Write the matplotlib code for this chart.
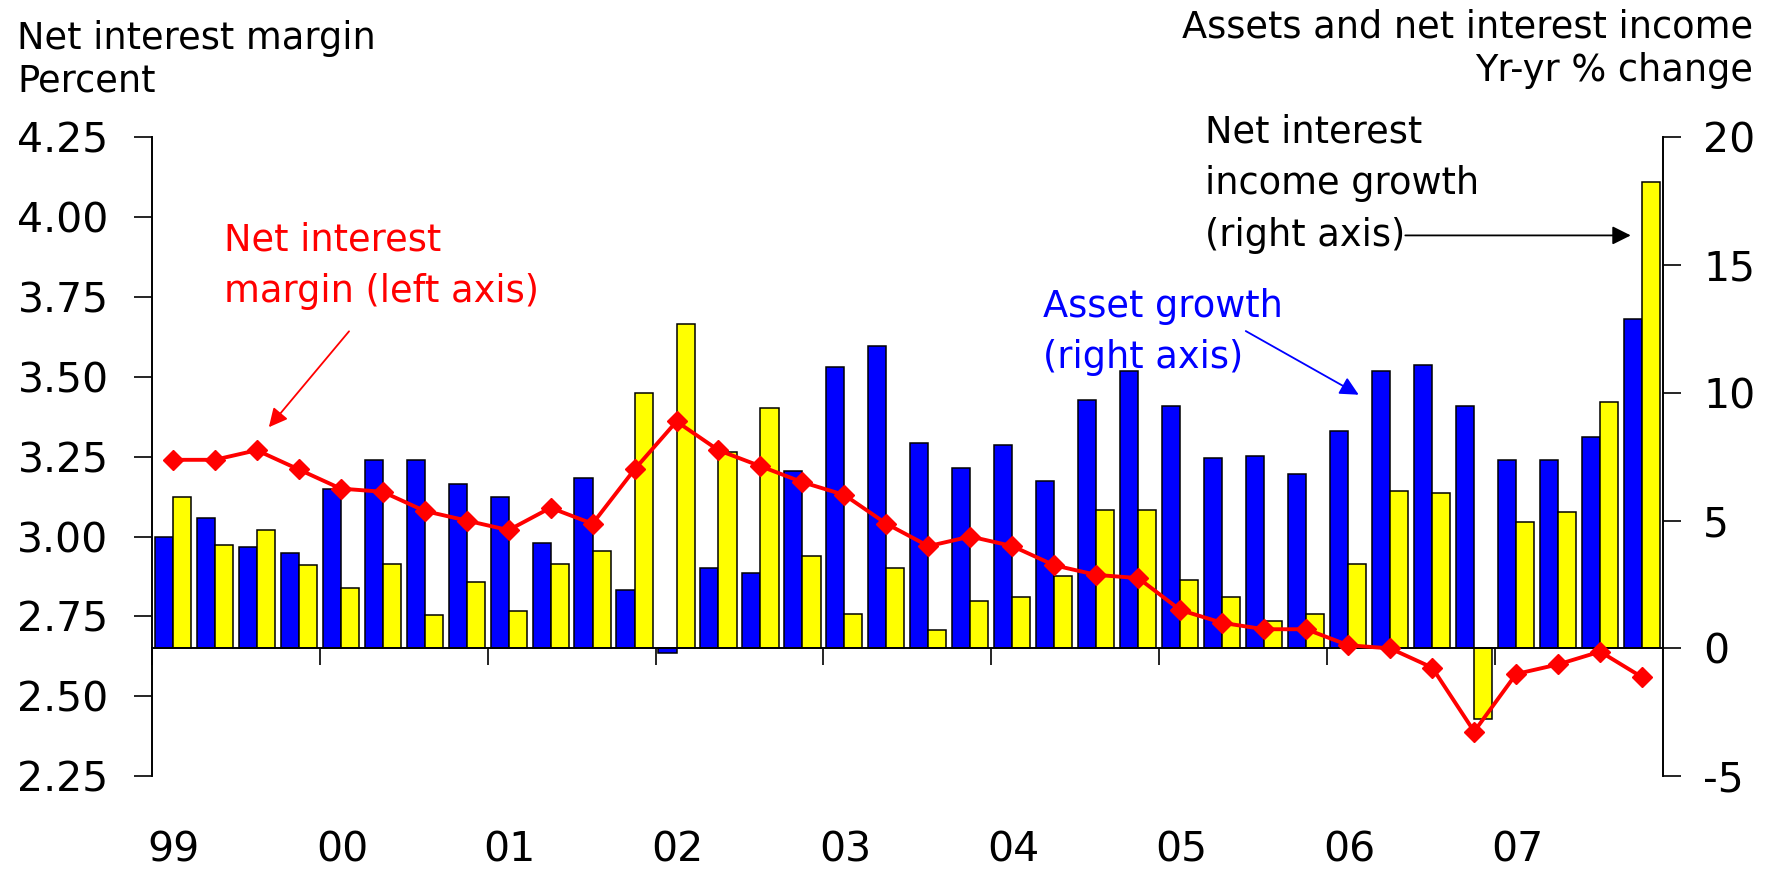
import numpy as np
import matplotlib.pyplot as plt
from matplotlib.transforms import blended_transform_factory

# quarterly data, 1999Q1 - 2007Q4
years = ['99', '00', '01', '02', '03', '04', '05', '06', '07']

# net interest margin, percent (left axis)
nim = [3.24, 3.24, 3.27, 3.21,
       3.15, 3.14, 3.08, 3.05,
       3.02, 3.09, 3.04, 3.21,
       3.36, 3.27, 3.22, 3.17,
       3.13, 3.04, 2.97, 3.00,
       2.97, 2.91, 2.88, 2.87,
       2.77, 2.73, 2.71, 2.71,
       2.66, 2.65, 2.59, 2.39,
       2.57, 2.60, 2.64, 2.56]

# asset growth, yr-yr % change (right axis)
asset_growth = [4.36, 5.11, 3.98, 3.75,
                6.25, 7.38, 7.38, 6.42,
                5.93, 4.14, 6.65, 2.29,
                -0.16, 3.16, 2.93, 6.95,
                11.01, 11.83, 8.03, 7.05,
                7.94, 6.56, 9.70, 10.86,
                9.48, 7.46, 7.52, 6.81,
                8.50, 10.86, 11.10, 9.48,
                7.38, 7.38, 8.25, 12.88]

# net interest income growth, yr-yr % change (right axis)
nii_growth = [5.93, 4.05, 4.62, 3.26,
              2.36, 3.32, 1.31, 2.58,
              1.48, 3.32, 3.80, 9.97,
              12.70, 7.70, 9.39, 3.63,
              1.36, 3.16, 0.72, 1.85,
              2.02, 2.83, 5.43, 5.43,
              2.67, 2.02, 1.06, 1.36,
              3.32, 6.14, 6.07, -2.76,
              4.94, 5.34, 9.63, 18.24]

left_ticks = [2.25, 2.50, 2.75, 3.00, 3.25, 3.50, 3.75, 4.00, 4.25]
right_ticks = [-5, 0, 5, 10, 15, 20]

RED = '#FF0000'
BLUE = '#0000FF'
YELLOW = '#FFFF00'
TICK_SIZE = 29.5
TEXT_SIZE = 26.5

fig = plt.figure(figsize=(17.85, 8.74), dpi=100)
ax = fig.add_axes([0.085, 0.1118, 0.8467, 0.7315])
ax2 = ax.twinx()

idx = np.arange(len(nim))
bw = 0.43
ax.bar(idx - bw / 2, asset_growth, width=bw, color=BLUE, edgecolor='black', linewidth=1.1, zorder=2)
ax.bar(idx + bw / 2, nii_growth, width=bw, color=YELLOW, edgecolor='black', linewidth=1.1, zorder=2)

ax2.plot(idx, nim, color=RED, lw=2.8, marker='D', markersize=10, markeredgecolor=RED,
         markeredgewidth=1, zorder=3)

# right axis (bars)
ax.set_xlim(-0.5, len(nim) - 0.5)
ax.set_ylim(-5, 20)
ax.yaxis.tick_right()
ax.set_yticks(right_ticks)
ax.set_yticklabels([str(t) for t in right_ticks])
ax.spines['top'].set_visible(False)
ax.spines['left'].set_visible(False)
ax.spines['bottom'].set_position(('data', 0))
for sp in ax.spines.values():
    sp.set_linewidth(1.4)
ax.tick_params(axis='y', direction='out', length=13, width=1.2, pad=16, labelsize=TICK_SIZE)

year_ticks = [-0.5 + 4 * k for k in range(len(years))]
ax.set_xticks(year_ticks)
ax.set_xticklabels([])
ax.tick_params(axis='x', direction='out', length=12, width=1.2)

trans = blended_transform_factory(ax.transData, fig.transFigure)
for pos, lab in zip(year_ticks, years):
    ax.text(pos + 0.53, 0.004, lab, transform=trans, ha='center', va='bottom',
            fontsize=TICK_SIZE)

# left axis (line)
ax2.set_ylim(2.25, 4.25)
ax2.yaxis.tick_left()
ax2.set_yticks(left_ticks)
ax2.set_yticklabels(['%.2f' % t for t in left_ticks])
for name in ['top', 'right', 'bottom']:
    ax2.spines[name].set_visible(False)
ax2.spines['left'].set_linewidth(1.4)
ax2.tick_params(axis='y', direction='out', length=13, width=1.2, pad=18, labelsize=TICK_SIZE)

# axis titles
fig.text(17 / 1785, 1 - 20 / 874, 'Net interest margin\nPercent', ha='left', va='top',
         fontsize=TEXT_SIZE, linespacing=1.2)
fig.text(1753 / 1785, 1 - 9 / 874, 'Assets and net interest income\nYr-yr % change',
         ha='right', va='top', multialignment='right', fontsize=TEXT_SIZE, linespacing=1.2)

# series labels with arrows
ax.text(1.23, 16.7, 'Net interest\nmargin (left axis)', color=RED, ha='left', va='top',
        fontsize=TEXT_SIZE, linespacing=1.5)
ax.annotate('', xy=(2.29, 8.65), xytext=(4.2, 12.4),
            arrowprops=dict(arrowstyle='-|>', color=RED, lw=1.3, mutation_scale=28,
                            shrinkA=0, shrinkB=0))

ax.text(20.74, 14.1, 'Asset growth\n(right axis)', color=BLUE, ha='left', va='top',
        fontsize=TEXT_SIZE, linespacing=1.5)
ax.annotate('', xy=(28.25, 9.92), xytext=(25.56, 12.41),
            arrowprops=dict(arrowstyle='-|>', color=BLUE, lw=1.3, mutation_scale=28,
                            shrinkA=0, shrinkB=0))

ax.text(24.58, 20.9, 'Net interest\nincome growth\n(right axis)', color='black', ha='left',
        va='top', fontsize=TEXT_SIZE, linespacing=1.5)
ax.annotate('', xy=(34.73, 16.15), xytext=(29.36, 16.15),
            arrowprops=dict(arrowstyle='-|>', color='black', lw=1.3, mutation_scale=28,
                            shrinkA=0, shrinkB=0))

fig.savefig('out.png', dpi=100)
